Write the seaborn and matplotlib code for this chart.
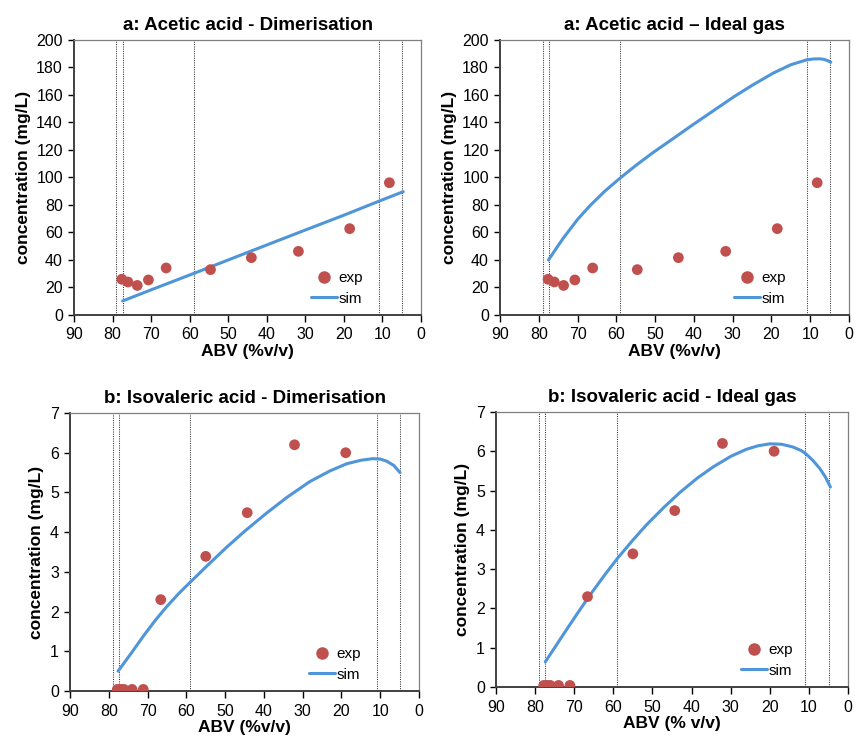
import matplotlib
matplotlib.use("Agg")
import matplotlib.pyplot as plt
import seaborn as sns
import pandas as pd
from matplotlib.lines import Line2D

sns.set_theme(style="white")
plt.rcParams['font.family'] = ['Liberation Sans', 'DejaVu Sans']
plt.rcParams['text.color'] = 'black'
plt.rcParams['axes.labelcolor'] = 'black'
plt.rcParams['xtick.color'] = 'black'
plt.rcParams['ytick.color'] = 'black'

# ---------------- data ----------------
# vertical dotted reference lines (ABV %v/v)
ref_lines = [79.0, 77.4, 59.0, 10.9, 4.9]

# a: acetic acid, experimental
acetic_exp_abv = [77.6, 76.0, 73.6, 70.7, 66.1, 54.6, 44.0, 31.8, 18.5, 8.2]
acetic_exp_conc = [26.0, 24.0, 21.5, 25.5, 34.2, 33.0, 41.7, 46.3, 62.8, 96.2]

# a: acetic acid, simulated - dimerisation
acetic_dim_abv = [77.4, 70.0, 58.7, 45.0, 30.0, 20.0, 10.7, 4.6]
acetic_dim_conc = [10.2, 18.3, 30.5, 45.5, 61.8, 72.6, 83.0, 89.7]

# a: acetic acid, simulated - ideal gas
acetic_ig_abv = [77.5, 75.0, 73.7, 70.0, 66.8, 63.0, 59.1, 55.0, 50.5, 45.0, 40.2,
                 35.0, 29.8, 25.0, 19.5, 15.0, 11.0, 9.2, 7.5, 6.6, 5.5, 4.7]
acetic_ig_conc = [40.0, 50.5, 55.8, 69.5, 79.5, 90.0, 99.4, 108.7, 118.2, 129.0, 138.5,
                  148.5, 158.5, 167.0, 176.0, 182.0, 185.5, 186.2, 186.3, 186.0, 185.0, 183.8]

# b: isovaleric acid, experimental
isoval_exp_abv = [77.8, 76.9, 76.1, 74.0, 71.1, 66.6, 55.0, 44.3, 32.1, 18.9]
isoval_exp_conc = [0.04, 0.04, 0.04, 0.04, 0.04, 2.3, 3.39, 4.49, 6.2, 6.0]

# b: isovaleric acid, simulated - dimerisation
isoval_dim_abv = [77.6, 74.0, 71.1, 68.0, 65.1, 62.0, 59.2, 55.0, 49.6, 45.0, 39.3,
                  34.0, 28.2, 23.0, 18.7, 15.0, 11.9, 10.0, 8.4, 6.5, 4.9]
isoval_dim_conc = [0.50, 0.98, 1.38, 1.78, 2.12, 2.45, 2.72, 3.12, 3.62, 4.02, 4.48,
                   4.88, 5.27, 5.54, 5.72, 5.81, 5.85, 5.84, 5.79, 5.68, 5.50]

# b: isovaleric acid, simulated - ideal gas
isoval_ig_abv = [77.4, 75.0, 72.7, 69.0, 65.9, 62.0, 58.9, 55.0, 51.5, 47.0, 43.0,
                 38.5, 34.5, 30.0, 26.0, 23.0, 20.0, 17.0, 14.1, 12.0, 10.7, 9.0,
                 7.2, 5.8, 4.5]
isoval_ig_conc = [0.64, 1.00, 1.35, 1.90, 2.35, 2.88, 3.28, 3.74, 4.13, 4.58, 4.95,
                  5.32, 5.60, 5.87, 6.05, 6.14, 6.19, 6.18, 6.11, 6.02, 5.93, 5.77,
                  5.56, 5.35, 5.09]

panels = [
    dict(title="a: Acetic acid - Dimerisation", ex=acetic_exp_abv, ey=acetic_exp_conc,
         sx=acetic_dim_abv, sy=acetic_dim_conc, ymax=200, ystep=20, xlabel="ABV (%v/v)",
         pos=[74, 40, 421, 315], leg=(0.86, 0.0)),
    dict(title="a: Acetic acid \u2013 Ideal gas", ex=acetic_exp_abv, ey=acetic_exp_conc,
         sx=acetic_ig_abv, sy=acetic_ig_conc, ymax=200, ystep=20, xlabel="ABV (%v/v)",
         pos=[500, 40, 849, 315], leg=(0.845, 0.0)),
    dict(title="b: Isovaleric acid - Dimerisation", ex=isoval_exp_abv, ey=isoval_exp_conc,
         sx=isoval_dim_abv, sy=isoval_dim_conc, ymax=7, ystep=1, xlabel="ABV (%v/v)",
         pos=[70, 413, 419, 691], leg=(0.86, 0.0)),
    dict(title="b: Isovaleric acid - Ideal gas", ex=isoval_exp_abv, ey=isoval_exp_conc,
         sx=isoval_ig_abv, sy=isoval_ig_conc, ymax=7, ystep=1, xlabel="ABV (% v/v)",
         pos=[496, 412, 848, 687], leg=(0.87, 0.0)),
]

W, H = 855, 745
fig = plt.figure(figsize=(W / 100, H / 100), dpi=100)

RED = "#C0504D"
BLUE = "#4F95D9"

for p in panels:
    l, t, r, b = p["pos"]
    ax = fig.add_axes([l / W, 1 - b / H, (r - l) / W, (b - t) / H])
    for xv in ref_lines:
        ax.axvline(xv, color="#333333", lw=0.75, ls=(0, (1, 1.2)), zorder=1)
    df_e = pd.DataFrame({"abv": p["ex"], "conc": p["ey"]})
    df_s = pd.DataFrame({"abv": p["sx"], "conc": p["sy"]})
    sns.lineplot(data=df_s, x="abv", y="conc", ax=ax, color=BLUE, lw=2.2, zorder=3,
                 estimator=None)
    sns.scatterplot(data=df_e, x="abv", y="conc", ax=ax, color=RED, s=60,
                    edgecolor="none", zorder=4)
    ax.set_xlim(90, 0)
    ax.set_ylim(0, p["ymax"])
    ax.set_xticks(list(range(90, -1, -10)))
    ax.set_yticks([i * p["ystep"] for i in range(int(p["ymax"] / p["ystep"]) + 1)])
    ax.tick_params(axis="both", labelsize=11.5, colors="#000000", direction="out",
                   length=4, width=1.0, pad=3)
    ax.tick_params(axis="x", length=5, pad=4, bottom=True)
    ax.tick_params(axis="y", length=4, left=True, pad=4)
    for s in ["left", "bottom"]:
        ax.spines[s].set_color("#404040")
        ax.spines[s].set_linewidth(1.4)
    for s in ["top", "right"]:
        ax.spines[s].set_color("#7f7f7f")
        ax.spines[s].set_linewidth(0.9)
    ax.set_title(p["title"], fontsize=13.5, fontweight="bold", pad=7, color="black")
    ax.set_xlabel(p["xlabel"], fontsize=12.5, fontweight="bold", labelpad=1, color="black")
    ax.set_ylabel("concentration (mg/L)", fontsize=12.5, fontweight="bold", labelpad=4,
                  color="black")
    handles = [Line2D([], [], marker="o", ls="none", color=RED, markersize=8),
               Line2D([], [], color=BLUE, lw=2.2)]
    leg = ax.legend(handles, ["exp", "sim"], loc="lower right", bbox_to_anchor=p["leg"],
                    frameon=False, fontsize=11, handlelength=1.7, handletextpad=0.1,
                    labelspacing=0.45, borderaxespad=0.2)
    for txt in leg.get_texts():
        txt.set_color("black")

fig.savefig("out.png", dpi=100)
